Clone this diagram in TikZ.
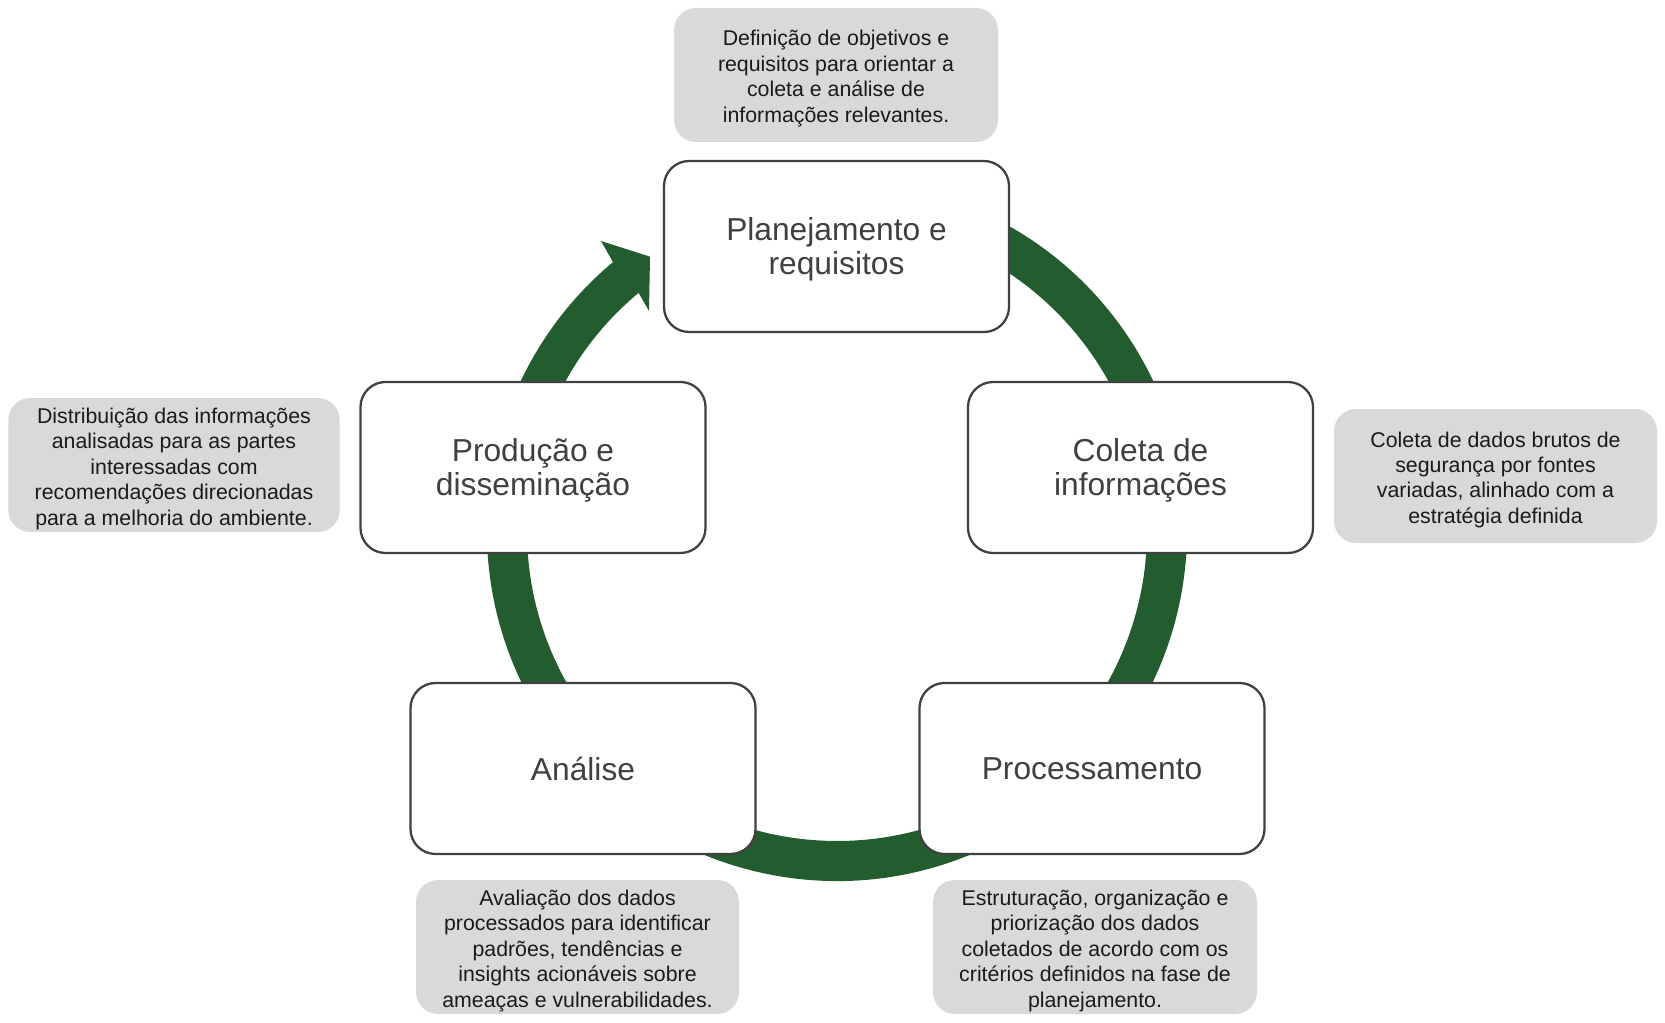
\documentclass[tikz,border=0pt]{standalone}
\usepackage{fontspec}
\setmainfont{Liberation Sans}
\usetikzlibrary{calc}
\definecolor{ringgreen}{RGB}{35,92,47}
\definecolor{boxline}{RGB}{64,64,64}
\definecolor{labeltext}{RGB}{64,64,64}
\definecolor{notefill}{RGB}{217,217,217}
\definecolor{notetext}{RGB}{26,26,26}
\begin{document}
\begin{tikzpicture}[x=0.75pt,y=-0.75pt,
  stagebox/.style={draw=boxline,line width=1.7pt,fill=white,rounded corners=18.75pt,
    minimum width=258.75pt,minimum height=128.25pt,inner sep=0pt},
  stagetext/.style={inner sep=0pt,align=center,
    text=labeltext,font=\fontsize{23.8pt}{25.5pt}\selectfont},
  notebox/.style={fill=notefill,rounded corners=16.5pt,minimum height=100.5pt,inner sep=0pt},
  notetext/.style={inner sep=0pt,align=center,text=notetext,font=\fontsize{16pt}{19.1pt}\selectfont}]
\useasboundingbox (0,0) rectangle (1665,1023);
\coordinate (c) at (837,531);
% ring with arrow head
\fill[ringgreen] ($(c)+(-75:350)$) arc[start angle=-75,end angle=230.2,radius=350]
  -- (601,241) -- (650,256.7) -- (649,311) -- ($(c)+(230.2:310)$)
  arc[start angle=230.2,end angle=-75,radius=310] -- cycle;
% stages
\node[stagebox] (plan) at (836.5,246.5) {};
\node[stagetext] (plant) at ([yshift=-2.4pt]plan.center) {Planejamento e\\requisitos};
\node[stagebox] (coleta) at (1140.5,467.5) {};
\node[stagetext] (coletat) at ([yshift=-2.4pt]coleta.center) {Coleta de\\informações};
\node[stagebox] (proc) at (1092,768.5) {};
\node[stagetext] (proct) at (proc.center) {Processamento};
\node[stagebox] (anal) at (583,768.5) {};
\node[stagetext] (analt) at (anal.center) {Análise};
\node[stagebox] (prod) at (533,467.5) {};
\node[stagetext] (prodt) at ([yshift=-2.4pt]prod.center) {Produção e\\disseminação};
% notes
\node[notebox,minimum width=243pt] (nplan) at (836,75) {};
\node[notetext] (nplant) at ([yshift=-2.8pt]nplan.center) {Definição de objetivos e\\requisitos para orientar a\\coleta e análise de\\informações relevantes.};
\node[notebox,minimum width=242.25pt] (ncol) at (1495.5,476) {};
\node[notetext] (ncolt) at ([yshift=-2.8pt]ncol.center) {Coleta de dados brutos de\\segurança por fontes\\variadas, alinhado com a\\estratégia definida};
\node[notebox,minimum width=248.6pt] (nprod) at (174,465) {};
\node[notetext] (nprodt) at ([yshift=-2.8pt]nprod.center) {Distribuição das informações\\analisadas para as partes\\interessadas com\\recomendações direcionadas\\para a melhoria do ambiente.};
\node[notebox,minimum width=242.25pt] (nanal) at (577.5,947) {};
\node[notetext] (nanalt) at ([yshift=-2.8pt]nanal.center) {Avaliação dos dados\\processados para identificar\\padrões, tendências e\\insights acionáveis sobre\\ameaças e vulnerabilidades.};
\node[notebox,minimum width=243pt] (nproc) at (1095,947) {};
\node[notetext] (nproct) at ([yshift=-2.8pt]nproc.center) {Estruturação, organização e\\priorização dos dados\\coletados de acordo com os\\critérios definidos na fase de\\planejamento.};
\end{tikzpicture}
\end{document}
